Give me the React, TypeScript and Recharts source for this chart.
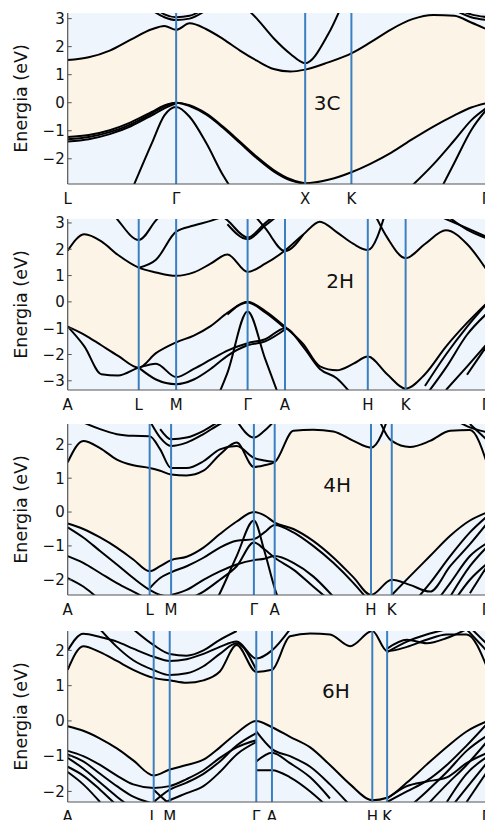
import React from 'react';
import {
  ComposedChart, Line, Area, XAxis, YAxis, CartesianGrid, ReferenceLine, ReferenceDot,
} from 'recharts';

type Band = { s: number; e: number[] };

// ---------- 3C ----------
const K_3C = [0, 0.05, 0.10, 0.15, 0.20, 0.23, 0.258, 0.29, 0.33, 0.37, 0.41, 0.45, 0.49, 0.53, 0.565, 0.62, 0.675, 0.72, 0.77, 0.82, 0.87, 0.92, 0.96, 1.0];
const SYM_3C = [0, 0.258, 0.565, 0.675, 1];
const LAB_3C = ['L', 'Γ', 'X', 'K', 'Γ'];
const CB_3C: Band[] = [
  { s: 0, e: [1.52, 1.62, 1.86, 2.25, 2.62, 2.74, 2.6, 2.83, 2.62, 2.27, 1.86, 1.5, 1.2, 1.11, 1.18, 1.44, 1.76, 2.15, 2.62, 2.98, 3.13, 3.1, 2.86, 2.6] },
  { s: 9, e: [4.3, 3.6, 3.0, 2.3, 1.74, 1.41, 2.45, 4.3] },
  { s: 3, e: [3.8, 3.3, 3.05, 2.95, 3.0, 3.3, 3.7] },
  { s: 20, e: [3.6, 3.3, 3.05, 2.95] },
  { s: 4, e: [3.5, 3.15, 3.05, 3.1, 3.4] },
  { s: 21, e: [3.4, 3.15, 3.05] },
];
const VB_3C: Band[] = [
  { s: 0, e: [-1.22, -1.15, -0.98, -0.7, -0.33, -0.1, 0, -0.09, -0.39, -0.86, -1.39, -1.93, -2.4, -2.73, -2.87, -2.75, -2.48, -2.18, -1.78, -1.3, -0.85, -0.45, -0.17, 0] },
  { s: 0, e: [-1.3, -1.22, -1.05, -0.77, -0.38, -0.13, 0, -0.12, -0.43, -0.9, -1.44, -1.98, -2.45, -2.77, -2.9] },
  { s: 0, e: [-1.38, -1.3, -1.12, -0.84, -0.45, -0.2, -0.03] },
  { s: 3, e: [-3.2, -1.45, -0.45, -0.15, -0.5, -1.45, -2.6, -3.5] },
  { s: 19, e: [-2.95, -2.2, -1.34, -0.63, -0.15] },
  { s: 20, e: [-3.6, -2.14, -0.98, -0.18] },
];

// ---------- 2H ----------
const K_2H = [0, 0.04, 0.08, 0.12, 0.169, 0.21, 0.258, 0.30, 0.34, 0.38, 0.428, 0.47, 0.517, 0.56, 0.60, 0.64, 0.68, 0.714, 0.76, 0.804, 0.85, 0.90, 0.95, 1.0];
const SYM_2H = [0, 0.169, 0.258, 0.428, 0.517, 0.714, 0.804, 1];
const LAB_HEX = ['A', 'L', 'M', 'Γ', 'A', 'H', 'K', 'Γ'];
const CB_2H: Band[] = [
  { s: 0, e: [1.95, 2.57, 2.3, 1.78, 1.3, 1.12, 0.99, 1.12, 1.45, 1.8, 1.14, 1.45, 1.95, 2.55, 3.05, 2.65, 2.2, 1.97, 3.6] },
  { s: 17, e: [3.9, 2.45, 1.66, 2.2, 2.72, 2.2, 1.14] },
  { s: 4, e: [1.3, 1.6, 2.67, 2.9, 3.08, 3.3] },
  { s: 2, e: [4.0, 3.1, 2.35, 3.1, 3.9] },
  { s: 8, e: [3.6, 3.1, 2.45, 3.0, 3.6] },
  { s: 9, e: [2.95, 2.38, 2.9, 3.5] },
  { s: 10, e: [3.6, 2.8, 1.93, 2.55] },
  { s: 20, e: [3.5, 3.15, 2.8, 2.45] },
  { s: 21, e: [3.3, 2.75, 2.4] },
];
const VB_2H: Band[] = [
  { s: 0, e: [-0.94, -1.25, -1.65, -2.05, -2.5, -1.95, -1.54, -1.28, -0.92, -0.42, 0, -0.35, -0.95, -1.6, -2.45, -2.6, -2.35, -2.08, -2.75, -3.3, -2.75, -1.7, -0.8, 0] },
  { s: 9, e: [-0.48, -0.02, -0.4, -1.0] },
  { s: 0, e: [-0.94, -1.7, -2.75, -2.8, -2.5, -2.35, -2.86, -2.55, -2.2, -1.85, -1.57, -1.42, -1.0, -1.7, -2.55, -2.9, -3.6] },
  { s: 4, e: [-2.5, -2.95, -3.13, -2.95, -2.55, -2.05, -1.65, -1.5, -1.05] },
  { s: 8, e: [-4.2, -2.7, -0.37, -2.18, -4.2] },
  { s: 20, e: [-3.2, -2.0, -0.95, -0.02] },
  { s: 20, e: [-3.6, -2.5, -1.25, -0.4] },
  { s: 21, e: [-3.35, -2.46, -1.55] },
  { s: 22, e: [-2.77, -1.6] },
];

// ---------- 4H ----------
const K_4H = [0, 0.037, 0.077, 0.117, 0.156, 0.195, 0.220, 0.246, 0.283, 0.323, 0.362, 0.402, 0.443, 0.468, 0.4925, 0.537, 0.584, 0.632, 0.680, 0.7216, 0.771, 0.814, 0.862, 0.910, 0.957, 1.0];
const SYM_4H = [0, 0.195, 0.246, 0.443, 0.4925, 0.7216, 0.771, 1];
const CB_4H: Band[] = [
  { s: 0, e: [1.47, 2.1, 1.89, 1.55, 1.38, 1.3, 1.22, 1.11, 1.08, 1.22, 1.7, 2.05, 1.33, 1.38, 1.47, 2.4, 2.43, 2.38, 2.1, 1.9, 3.1] },
  { s: 19, e: [3.4, 2.1, 1.92, 2.1, 2.4, 2.42, 1.35] },
  { s: 0, e: [2.9, 2.65, 2.45, 2.3, 2.25, 2.24, 1.85, 1.3, 1.3, 1.5, 1.85, 1.95, 1.6, 1.52, 1.48] },
  { s: 5, e: [2.7, 2.2, 1.95, 2.05, 2.3, 2.6, 2.8] },
  { s: 6, e: [2.45, 2.15, 2.2, 2.4, 2.7] },
  { s: 11, e: [2.7, 2.2, 2.4, 2.7] },
  { s: 24, e: [2.6, 2.1] },
  { s: 23, e: [2.8, 2.5, 2.35] },
];
const VB_4H: Band[] = [
  { s: 0, e: [-0.34, -0.5, -0.75, -1.05, -1.4, -1.75, -1.6, -1.42, -1.32, -1.05, -0.65, -0.28, 0, -0.1, -0.31, -0.5, -0.85, -1.34, -1.93, -2.45, -2.0, -2.15, -2.35, -1.6, -0.95, -0.3] },
  { s: 20, e: [-2.45, -1.9, -1.3, -0.7, -0.25, 0] },
  { s: 0, e: [-0.45, -0.75, -1.15, -1.55, -1.95, -2.3, -2.45, -2.5] },
  { s: 0, e: [-1.3, -1.5, -1.8, -2.1, -2.35, -2.6] },
  { s: 0, e: [-1.95, -2.2, -2.6] },
  { s: 5, e: [-2.25, -1.95, -1.78, -1.6, -1.35, -1.05, -0.85, -0.8, -0.6, -0.38, -0.6, -1.0, -1.5, -2.1, -2.7] },
  { s: 9, e: [-3.3, -2.4, -1.3, -0.25, -1.15, -2.25, -3.5] },
  { s: 7, e: [-2.45, -2.3, -2.0, -1.75, -1.55, -1.42, -1.38, -1.3, -1.5, -1.9, -2.5] },
  { s: 8, e: [-2.6, -2.35, -2.0, -1.6, -0.9, -1.1, -1.35, -1.7, -2.2, -2.7] },
  { s: 21, e: [-2.8, -2.1, -1.3, -0.6, -0.1] },
  { s: 22, e: [-2.9, -2.1, -1.3, -0.9] },
  { s: 23, e: [-2.5, -1.6, -1.0] },
  { s: 23, e: [-2.8, -2.0, -1.5] },
  { s: 24, e: [-2.4, -1.55] },
];

// ---------- 6H ----------
const K_6H = [0, 0.037, 0.077, 0.117, 0.156, 0.2046, 0.2427, 0.283, 0.323, 0.362, 0.402, 0.4487, 0.486, 0.529, 0.577, 0.624, 0.672, 0.7247, 0.760, 0.807, 0.854, 0.902, 0.949, 1.0];
const SYM_6H = [0, 0.2046, 0.2427, 0.4487, 0.486, 0.7247, 0.760, 1];
const CB_6H: Band[] = [
  { s: 0, e: [1.45, 2.12, 1.95, 1.7, 1.45, 1.22, 1.15, 1.08, 1.15, 1.4, 2.15, 1.39, 1.45, 2.4, 2.48, 2.45, 2.12, 2.55, 1.98, 2.1, 2.3, 2.45, 2.45, 1.45] },
  { s: 0, e: [2.0, 2.47, 2.38, 2.25, 2.05, 1.82, 1.7, 1.75, 1.9, 2.1, 2.25, 1.77, 2.0, 2.6] },
  { s: 2, e: [2.6, 2.1, 1.72, 1.44, 1.3, 1.35, 1.55, 1.9, 2.2, 1.45] },
  { s: 4, e: [2.6, 2.15, 1.9, 1.85, 2.0, 2.3, 2.55] },
  { s: 18, e: [1.95, 2.25, 2.45, 2.6] },
  { s: 18, e: [2.05, 2.3, 2.2, 2.35, 2.6] },
  { s: 22, e: [2.6, 1.95] },
  { s: 22, e: [2.75, 2.15] },
];
const VB_6H: Band[] = [
  { s: 0, e: [-0.15, -0.28, -0.5, -0.78, -1.12, -1.55, -1.38, -1.25, -1.1, -0.75, -0.35, 0, -0.18, -0.45, -0.75, -1.25, -1.8, -2.25, -2.18, -1.75, -1.24, -0.74, -0.3, 0] },
  { s: 0, e: [-0.85, -1.0, -1.25, -1.55, -1.8, -1.9, -1.85, -1.65, -1.4, -1.05, -0.75, -0.55] },
  { s: 0, e: [-0.95, -1.15, -1.5, -1.85, -2.15, -2.35] },
  { s: 0, e: [-1.05, -1.35, -1.75, -2.15, -2.5] },
  { s: 0, e: [-1.3, -1.55, -1.95, -2.4] },
  { s: 0, e: [-1.45, -1.8, -2.3] },
  { s: 5, e: [-2.3, -1.95, -1.75, -1.5, -1.15, -0.7, -0.35] },
  { s: 5, e: [-2.5, -2.25, -2.05, -1.85, -1.45, -0.95, -0.6] },
  { s: 11, e: [-0.3, -0.8, -1.0, -1.3, -1.8, -2.4] },
  { s: 11, e: [-1.15, -0.9, -1.2, -1.6, -2.2] },
  { s: 11, e: [-1.4, -1.4, -1.6, -2.0, -2.5] },
  { s: 18, e: [-2.3, -2.0, -1.7, -1.25, -0.7, -0.05] },
  { s: 19, e: [-2.5, -2.0, -1.45, -0.85, -0.4] },
  { s: 20, e: [-2.4, -1.8, -1.25, -0.55] },
  { s: 21, e: [-2.3, -1.5, -1.0] },
  { s: 21, e: [-2.6, -1.9, -1.15] },
  { s: 22, e: [-2.3, -1.4] },
  { s: 18, e: [-2.2, -1.85, -1.72, -1.6, -1.2, -0.9] },
  { s: 5, e: [-1.95, -2.35, -2.6] },
];

const NAMES = ['3C', '2H', '4H', '6H'];
const Y_DOMAINS: [number, number][] = [[-2.9, 3.2], [-3.35, 3.15], [-2.45, 2.6], [-2.3, 2.55]];
const Y_TICKS = [[-2, -1, 0, 1, 2, 3], [-3, -2, -1, 0, 1, 2, 3], [-2, -1, 0, 1, 2], [-2, -1, 0, 1, 2]];
const NAME_POS: [number, number][] = [[0.617, 0], [0.648, 0.8], [0.641, 0.81], [0.638, 0.85]];

const BG = '#eef5fd';
const GAP = '#fcf4e6';
const VLINE = '#3b7fbf';
const FRAME = '#555555';
const FONT = 'DejaVu Sans, sans-serif';

const PANEL_TOPS = [0.3, 206, 411.3, 617.7];

function valAt(b: Band, i: number): number | null {
  const j = i - b.s;
  return j >= 0 && j < b.e.length ? b.e[j] : null;
}

function buildRows(k: number[], cb: Band[], vb: Band[]) {
  return k.map((kv, i) => {
    const row: Record<string, any> = { k: kv };
    let hi = Infinity;
    let lo = -Infinity;
    cb.forEach((b, j) => {
      const v = valAt(b, i);
      row['c' + j] = v;
      if (v !== null) hi = Math.min(hi, v);
    });
    vb.forEach((b, j) => {
      const v = valAt(b, i);
      row['v' + j] = v;
      if (v !== null) lo = Math.max(lo, v);
    });
    row.gap = isFinite(hi) && isFinite(lo) ? [lo, hi] : null;
    return row;
  });
}

type PanelProps = {
  idx: number; k: number[]; sym: number[]; labels: string[]; cb: Band[]; vb: Band[];
};

const minus = (v: number) => String(v).replace('-', '\u2212');

function Panel({ idx, k, sym, labels, cb, vb }: PanelProps) {
  const rows = buildRows(k, cb, vb);
  const dom = Y_DOMAINS[idx];
  const XTick = (props: any) => {
    const { x, y, payload } = props;
    const i = sym.indexOf(payload.value);
    const last = i === sym.length - 1;
    return (
      <text x={x} y={y} dx={last ? -2 : 0} dy="0.71em" textAnchor="middle" fill="#111" fontSize={15} fontFamily={FONT}>
        {labels[i]}
      </text>
    );
  };
  return (
    <div style={{ position: 'absolute', left: 0, top: PANEL_TOPS[idx], width: 493, height: 202 }}>
      <ComposedChart width={493} height={202} data={rows} margin={{ top: 5, right: 5, bottom: 0, left: 8 }}>
        <CartesianGrid fill={BG} stroke="none" horizontal={false} vertical={false} />
        <XAxis
          dataKey="k" type="number" domain={[0, 1]} ticks={sym} interval={0} allowDataOverflow
          tickLine={false} axisLine={{ stroke: FRAME, strokeWidth: 1.2 }} tickSize={6} tickMargin={3} height={26}
          tick={XTick}
        />
        <XAxis xAxisId="top" orientation="top" type="number" domain={[0, 1]} tick={false} tickLine={false}
          axisLine={{ stroke: FRAME, strokeWidth: 1.2 }} height={0} />
        <YAxis
          type="number" domain={dom} ticks={Y_TICKS[idx]} interval={0} allowDataOverflow width={59.7}
          tickFormatter={minus} tickSize={-4} tickMargin={7}
          tickLine={{ stroke: FRAME }} axisLine={{ stroke: FRAME, strokeWidth: 1.2 }}
          tick={{ fill: '#111', fontSize: 15, fontFamily: FONT }}
          label={{ value: 'Energia (eV)', angle: -90, position: 'insideLeft', offset: 13, fill: '#111', fontSize: 17.5, fontFamily: FONT, style: { textAnchor: 'middle' } }}
        />
        <YAxis yAxisId="right" orientation="right" type="number" domain={dom} tick={false} tickLine={false}
          axisLine={{ stroke: FRAME, strokeWidth: 1.2 }} width={0} />
        <Area dataKey="gap" type="monotone" fill={GAP} fillOpacity={1} stroke="none" isAnimationActive={false} activeDot={false} dot={false} />
        {cb.map((_, j) => (
          <Line key={'c' + j} dataKey={'c' + j} type="monotone" stroke="#000" strokeWidth={2} dot={false}
            activeDot={false} isAnimationActive={false} connectNulls={false} />
        ))}
        {vb.map((_, j) => (
          <Line key={'v' + j} dataKey={'v' + j} type="monotone" stroke="#000" strokeWidth={2} dot={false}
            activeDot={false} isAnimationActive={false} connectNulls={false} />
        ))}
        {sym.slice(1, -1).map((x, j) => (
          <ReferenceLine key={'s' + j} x={x} stroke={VLINE} strokeWidth={2} />
        ))}
        <ReferenceDot x={NAME_POS[idx][0]} y={NAME_POS[idx][1]} r={0} fill="none" stroke="none"
          label={{ value: NAMES[idx], position: 'center', fill: '#111', fontSize: 20, fontFamily: FONT }} />
      </ComposedChart>
    </div>
  );
}

export default function App() {
  return (
    <div style={{ position: 'relative', width: 493, height: 812, marginLeft: -8, fontFamily: FONT }}>
      <Panel idx={0} k={K_3C} sym={SYM_3C} labels={LAB_3C} cb={CB_3C} vb={VB_3C} />
      <Panel idx={1} k={K_2H} sym={SYM_2H} labels={LAB_HEX} cb={CB_2H} vb={VB_2H} />
      <Panel idx={2} k={K_4H} sym={SYM_4H} labels={LAB_HEX} cb={CB_4H} vb={VB_4H} />
      <Panel idx={3} k={K_6H} sym={SYM_6H} labels={LAB_HEX} cb={CB_6H} vb={VB_6H} />
    </div>
  );
}
